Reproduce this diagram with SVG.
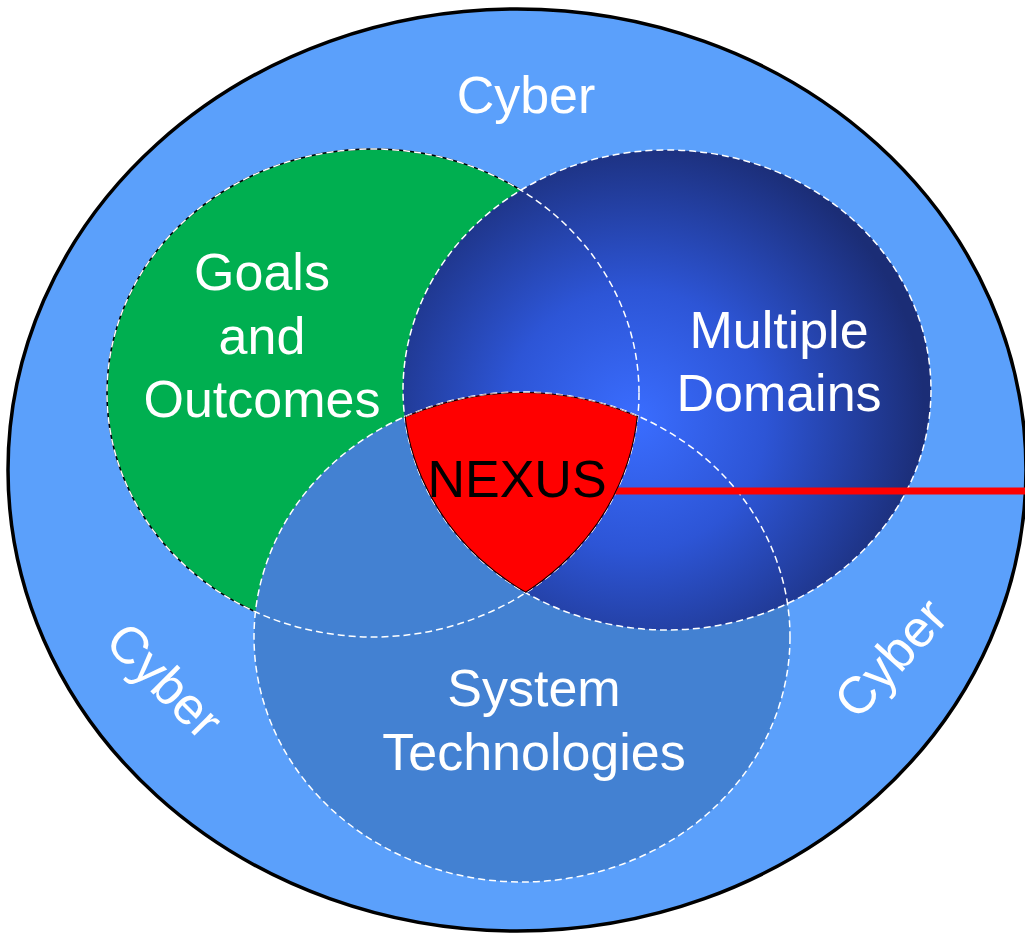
<svg xmlns="http://www.w3.org/2000/svg" width="1025" height="933" viewBox="0 0 1025 933">
<defs>
<radialGradient id="domGrad" gradientUnits="userSpaceOnUse" cx="635" cy="420" r="290">
<stop offset="0" stop-color="#3A6DFF"/>
<stop offset="0.45" stop-color="#2D55D6"/>
<stop offset="1" stop-color="#1B2D76"/>
</radialGradient>
<clipPath id="clipGreen"><ellipse cx="373" cy="393" rx="266" ry="244"/></clipPath>
<clipPath id="clipDom"><ellipse cx="667" cy="390" rx="264" ry="240"/></clipPath>
<clipPath id="clipSys"><ellipse cx="522" cy="637" rx="268" ry="245"/></clipPath>
<style>
.lbl{font-family:"Liberation Sans",Arial,sans-serif;font-size:52px;fill:#fff;text-anchor:middle}
.dash{fill:none;stroke:#fff;stroke-width:1.5;stroke-dasharray:7 4}
</style>
</defs>
<g id="cyber">
<ellipse cx="517" cy="470" rx="509" ry="461" fill="#5BA0FB" stroke="#000" stroke-width="3.5"/>
<text class="lbl" x="526" y="113">Cyber</text>
<text class="lbl" transform="translate(152 693) rotate(45)" x="0" y="0">Cyber</text>
<text class="lbl" transform="translate(904 670) rotate(-48)" x="0" y="0">Cyber</text>
</g>
<g id="goals">
<ellipse cx="373" cy="393" rx="266" ry="244" fill="#00AF50" stroke="#000" stroke-width="1.5"/>
</g>
<g id="system">
<ellipse cx="522" cy="637" rx="268" ry="245" fill="#4381D2"/>
</g>
<g id="domains">
<ellipse cx="667" cy="390" rx="264" ry="240" fill="url(#domGrad)"/>
</g>
<g id="outlines">
<ellipse class="dash" cx="373" cy="393" rx="266" ry="244"/>
<ellipse class="dash" cx="522" cy="637" rx="268" ry="245"/>
<ellipse class="dash" cx="667" cy="390" rx="264" ry="240"/>
</g>
<g id="labels">
<text class="lbl" x="262" y="290">Goals</text>
<text class="lbl" x="262" y="354">and</text>
<text class="lbl" x="262" y="417">Outcomes</text>
<text class="lbl" x="779" y="348">Multiple</text>
<text class="lbl" x="779" y="411">Domains</text>
<text class="lbl" x="534" y="706">System</text>
<text class="lbl" x="534" y="770">Technologies</text>
</g>
<g id="connectors">
<line x1="612" y1="491" x2="1025" y2="491" stroke="#FF0000" stroke-width="7"/>
</g>
<g id="nexus">
<g clip-path="url(#clipGreen)">
<g clip-path="url(#clipDom)">
<g clip-path="url(#clipSys)">
<rect x="380" y="380" width="280" height="240" fill="#FF0000"/>
<ellipse cx="522" cy="637" rx="268" ry="245" fill="none" stroke="#000" stroke-width="2"/>
<ellipse cx="373" cy="393" rx="266" ry="244" fill="none" stroke="#000" stroke-width="2"/>
<ellipse cx="667" cy="390" rx="264" ry="240" fill="none" stroke="#000" stroke-width="2"/>
<ellipse class="dash" cx="522" cy="637" rx="268" ry="245"/>
</g>
</g>
</g>
<text x="517" y="497" font-family="Liberation Sans, Arial, sans-serif" font-size="52" fill="#000" text-anchor="middle">NEXUS</text>
</g>
</svg>
